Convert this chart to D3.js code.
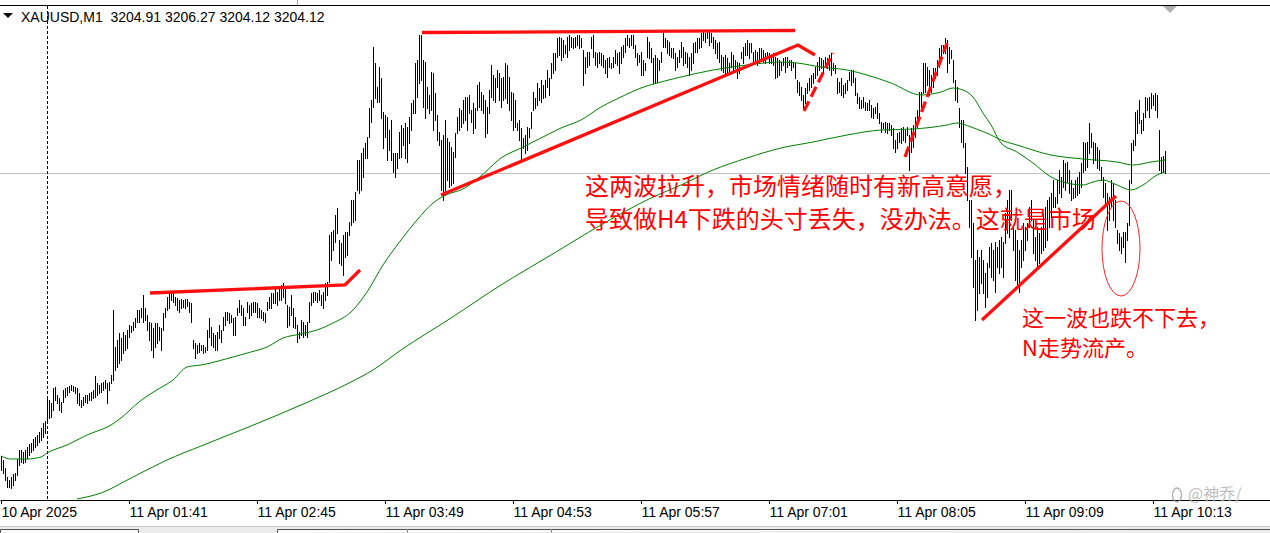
<!DOCTYPE html>
<html><head><meta charset="utf-8">
<script src="https://cdn.jsdelivr.net/npm/d3@7"></script>
<style>html,body{margin:0;padding:0;background:#fff;overflow:hidden}svg{display:block}</style>
</head><body>
<svg id="c" width="1270" height="533"></svg>
<script>
// ---------- data ----------
const symbol = "XAUUSD", timeframe = "M1";
const lastOHLC = [3204.91, 3206.27, 3204.12, 3204.12];

const highs = [
3175.8,3175.4,3174.6,3173.7,3173.4,3173.7,3174.0,3174.1,3175.5,3176.4,3176.4,3176.2,3176.4,3176.7,3177.0,3177.1,3177.5,3177.7,3177.9,3178.2,
3178.6,3179.1,3179.3,3181.6,3181.4,3181.1,3182.6,3182.7,3181.9,3181.6,3181.2,3182.4,3182.6,3182.7,3182.8,3182.9,3182.8,3182.7,3182.6,3182.1,
3181.4,3181.7,3181.9,3181.9,3182.1,3182.2,3182.4,3183.8,3183.1,3182.9,3183.1,3183.2,3183.4,3183.1,3183.2,3183.9,3190.4,3186.7,3187.4,3188.1,
3187.6,3188.2,3187.9,3188.4,3188.9,3188.8,3189.2,3189.6,3190.4,3190.4,3190.6,3191.9,3190.6,3189.9,3189.2,3189.1,3188.6,3189.1,3189.1,3188.7,
3188.6,3190.1,3190.6,3191.7,3192.1,3192.2,3192.1,3191.7,3191.6,3191.4,3191.5,3191.4,3191.5,3191.5,3191.2,3191.1,3187.4,3187.1,3186.9,3187.1,
3186.9,3186.9,3186.7,3188.4,3189.6,3188.7,3188.1,3187.9,3188.2,3188.9,3188.4,3189.7,3190.2,3190.2,3190.1,3189.9,3189.6,3189.7,3190.6,3191.4,
3190.9,3190.6,3189.7,3191.2,3190.9,3191.1,3191.2,3191.2,3191.1,3190.6,3190.4,3190.2,3190.1,3191.2,3191.7,3192.1,3192.1,3192.6,3192.2,3192.6,
3192.9,3193.1,3192.6,3190.9,3190.7,3191.9,3190.6,3189.7,3188.9,3188.2,3189.4,3189.2,3188.9,3189.2,3191.2,3192.1,3192.2,3192.2,3192.1,3192.4,
3191.9,3192.2,3193.1,3193.2,3197.9,3198.2,3198.4,3199.9,3200.6,3197.4,3197.1,3197.9,3198.2,3198.2,3199.2,3201.4,3201.4,3202.2,3205.4,3205.4,
3206.1,3206.6,3207.1,3207.7,3210.6,3211.4,3216.7,3215.1,3212.7,3214.7,3213.6,3210.2,3209.9,3209.7,3208.4,3209.4,3206.1,3206.1,3206.1,3208.2,
3208.9,3208.6,3209.1,3208.7,3209.7,3211.1,3211.4,3215.1,3215.4,3217.9,3217.9,3215.4,3215.2,3212.7,3211.9,3214.2,3214.1,3212.1,3209.9,3208.2,
3207.4,3207.9,3209.4,3207.6,3207.2,3206.7,3206.2,3208.1,3209.7,3210.6,3210.4,3211.4,3211.7,3211.7,3211.9,3210.4,3211.1,3210.6,3212.9,3213.2,
3212.2,3211.9,3211.4,3210.7,3212.4,3214.9,3213.9,3213.6,3214.4,3214.1,3213.6,3213.7,3215.1,3214.9,3213.7,3212.2,3212.1,3211.4,3209.1,3209.4,
3208.6,3207.6,3207.9,3208.7,3208.6,3210.2,3212.2,3211.6,3213.1,3212.6,3213.4,3212.9,3213.4,3214.4,3213.6,3215.1,3216.1,3216.1,3217.6,3217.7,
3217.6,3217.4,3216.9,3217.7,3217.9,3217.7,3217.6,3217.7,3217.9,3217.9,3217.6,3216.4,3215.7,3216.2,3216.2,3217.7,3217.9,3216.2,3216.1,3216.2,
3216.1,3215.9,3215.4,3215.6,3215.7,3215.1,3215.7,3216.4,3216.1,3216.2,3216.7,3216.9,3217.6,3217.9,3217.6,3217.9,3217.9,3216.9,3216.1,3215.9,
3216.2,3215.4,3215.1,3217.7,3217.2,3216.6,3215.6,3215.9,3215.6,3215.4,3216.2,3218.1,3217.6,3217.4,3217.2,3216.6,3216.6,3216.1,3215.7,3216.4,
3217.2,3216.7,3216.2,3216.1,3215.7,3216.1,3217.1,3217.2,3217.6,3217.6,3218.1,3218.2,3218.1,3218.2,3218.2,3218.1,3217.7,3217.4,3217.1,3217.2,
3215.9,3215.7,3215.9,3215.6,3215.1,3216.2,3215.9,3215.4,3215.2,3215.1,3216.2,3216.7,3217.1,3217.4,3217.1,3217.1,3216.2,3216.4,3216.2,3216.6,
3216.6,3216.4,3216.1,3216.2,3216.1,3215.9,3216.1,3215.7,3215.6,3215.4,3215.2,3215.6,3215.7,3215.7,3215.4,3215.4,3215.2,3215.1,3213.4,3213.2,
3212.7,3211.9,3212.6,3213.1,3213.6,3213.9,3214.1,3214.7,3215.2,3215.7,3215.6,3215.4,3215.7,3215.6,3215.9,3216.1,3215.1,3214.9,3213.6,3213.2,
3213.6,3212.9,3213.1,3213.4,3214.2,3214.4,3214.4,3213.6,3212.1,3211.7,3211.4,3211.7,3211.2,3211.1,3211.4,3210.9,3210.6,3210.7,3211.1,3210.1,
3209.2,3209.1,3209.2,3209.1,3209.1,3208.9,3208.6,3207.4,3208.1,3208.2,3208.6,3208.7,3208.4,3208.7,3207.9,3208.6,3208.9,3209.7,3210.4,3212.2,
3212.2,3215.1,3215.1,3214.7,3214.4,3213.9,3214.6,3214.6,3215.4,3216.6,3216.9,3216.9,3217.6,3217.4,3216.7,3216.4,3215.4,3213.4,3212.7,3210.6,
3209.4,3209.4,3207.1,3204.7,3201.4,3201.4,3199.1,3195.4,3196.4,3195.7,3196.4,3195.4,3194.1,3195.1,3196.7,3197.1,3196.4,3197.2,3196.7,3197.4,
3197.7,3197.2,3200.1,3201.4,3202.4,3202.4,3198.7,3198.4,3197.4,3196.4,3197.4,3199.1,3198.7,3199.1,3200.7,3201.4,3199.4,3197.7,3198.7,3198.1,
3198.7,3200.1,3200.7,3201.4,3201.7,3202.1,3203.4,3201.7,3203.4,3204.4,3203.7,3205.4,3205.1,3205.2,3204.4,3203.4,3202.6,3203.4,3203.7,3204.2,
3205.1,3207.2,3207.1,3207.2,3209.1,3208.1,3207.2,3207.1,3206.7,3206.4,3204.7,3203.7,3203.1,3202.1,3201.7,3203.4,3203.1,3201.4,3198.4,3198.1,
3197.7,3198.2,3198.2,3199.1,3203.4,3207.1,3207.4,3210.2,3210.4,3211.4,3209.4,3210.1,3211.7,3211.6,3211.7,3212.1,3211.9,3212.1,3211.9,3208.4,
3205.7,3205.8,3206.27];

const lows = [
3174.4,3174.1,3173.4,3172.7,3172.7,3172.6,3172.9,3173.4,3173.9,3174.9,3175.2,3175.1,3175.2,3175.6,3175.9,3176.2,3176.4,3176.7,3176.9,3177.2,
3177.4,3177.7,3178.1,3179.4,3179.6,3179.7,3180.4,3181.4,3181.1,3180.4,3180.2,3181.2,3181.7,3181.9,3182.2,3182.4,3182.3,3182.1,3181.1,3180.9,
3180.7,3180.9,3181.2,3181.1,3181.4,3181.4,3181.6,3181.7,3181.9,3182.1,3182.2,3182.4,3182.6,3181.1,3182.4,3183.1,3183.4,3184.4,3184.7,3185.1,
3185.4,3186.1,3186.4,3186.6,3187.7,3188.2,3188.4,3188.7,3189.2,3189.2,3189.7,3189.2,3189.4,3188.4,3187.4,3186.4,3185.7,3186.7,3187.1,3187.4,
3186.4,3188.4,3189.7,3190.4,3190.6,3191.4,3191.2,3190.9,3190.4,3190.2,3190.6,3190.7,3190.6,3190.8,3190.2,3189.2,3186.6,3185.6,3186.1,3186.2,
3186.4,3186.1,3186.2,3186.4,3187.7,3186.9,3186.7,3186.4,3186.4,3187.6,3187.2,3188.4,3188.9,3189.4,3189.1,3189.2,3187.9,3187.9,3189.9,3190.2,
3189.9,3188.9,3188.9,3190.2,3189.6,3189.9,3190.2,3190.2,3189.7,3189.7,3189.6,3189.4,3189.2,3190.4,3190.6,3190.6,3191.1,3191.1,3190.9,3191.4,
3191.4,3191.7,3191.1,3188.7,3188.9,3189.9,3188.7,3188.6,3187.2,3187.6,3187.9,3187.7,3187.9,3187.7,3189.2,3190.9,3191.2,3191.4,3191.2,3191.4,
3190.9,3190.6,3191.4,3191.9,3193.2,3195.4,3196.4,3197.2,3198.1,3195.1,3194.9,3193.9,3195.7,3195.9,3197.9,3198.9,3199.2,3199.4,3202.4,3202.1,
3202.4,3203.7,3205.6,3205.6,3207.7,3209.2,3210.7,3211.6,3211.2,3211.2,3209.6,3206.6,3207.7,3205.4,3206.4,3205.4,3204.2,3203.7,3204.6,3205.6,
3205.7,3206.9,3205.6,3205.2,3207.1,3208.4,3210.1,3210.1,3211.7,3213.1,3213.4,3210.7,3209.6,3210.6,3210.1,3210.4,3208.4,3209.4,3207.4,3206.9,
3202.4,3201.4,3201.9,3203.4,3202.7,3202.9,3203.1,3205.7,3208.1,3208.4,3208.7,3209.1,3209.4,3208.4,3210.1,3209.2,3208.1,3208.6,3210.4,3210.7,
3210.4,3210.1,3207.7,3208.1,3210.1,3211.7,3211.4,3211.2,3212.7,3211.4,3210.7,3211.4,3211.6,3211.1,3210.4,3209.4,3208.4,3208.7,3208.4,3207.4,
3205.4,3206.6,3206.1,3206.4,3207.7,3208.6,3210.4,3210.6,3210.9,3211.4,3211.2,3211.6,3211.7,3212.7,3211.9,3213.6,3214.1,3214.4,3215.7,3215.9,
3215.4,3215.7,3216.1,3215.7,3216.4,3216.7,3216.6,3216.7,3216.9,3216.6,3216.7,3212.9,3214.1,3214.7,3214.9,3216.6,3215.7,3214.9,3214.7,3215.1,
3214.9,3214.7,3214.1,3213.7,3214.7,3214.6,3214.7,3215.1,3214.9,3214.1,3215.1,3215.7,3216.2,3216.9,3216.7,3216.9,3216.6,3215.7,3214.9,3215.2,
3213.9,3213.9,3214.4,3215.7,3215.6,3215.2,3213.1,3213.2,3213.2,3214.4,3215.2,3216.7,3216.7,3216.1,3215.9,3215.7,3215.6,3214.4,3214.7,3215.2,
3215.7,3214.9,3215.1,3214.7,3213.9,3214.4,3215.1,3216.2,3216.2,3216.6,3216.7,3217.4,3217.2,3217.6,3216.9,3217.2,3216.6,3216.1,3215.6,3215.2,
3214.4,3214.2,3213.9,3214.2,3214.1,3214.7,3214.2,3214.6,3213.6,3214.1,3215.6,3215.1,3215.9,3215.9,3215.6,3216.2,3215.1,3215.4,3214.9,3215.2,
3215.6,3215.2,3215.1,3215.6,3215.1,3215.1,3214.9,3213.6,3213.7,3213.9,3214.4,3214.9,3214.2,3214.7,3214.9,3214.4,3214.7,3213.6,3212.2,3211.9,
3211.4,3210.6,3211.1,3212.1,3212.4,3212.7,3213.1,3213.6,3213.9,3214.4,3214.6,3214.1,3214.9,3214.6,3214.4,3213.9,3214.4,3214.1,3212.1,3212.2,
3211.9,3211.7,3212.1,3212.4,3213.4,3212.9,3213.2,3211.9,3211.1,3210.6,3210.6,3210.7,3210.4,3210.4,3210.4,3209.7,3209.6,3210.1,3209.6,3209.1,
3208.2,3208.6,3208.2,3208.1,3208.4,3207.9,3206.6,3206.2,3206.6,3207.2,3207.1,3207.4,3207.2,3207.9,3204.4,3206.2,3206.7,3207.7,3208.7,3209.4,
3210.7,3212.1,3212.2,3212.9,3211.9,3212.2,3212.7,3213.6,3213.9,3214.7,3215.6,3216.1,3216.1,3214.2,3215.1,3215.6,3213.2,3211.4,3211.2,3208.7,
3207.2,3206.7,3204.1,3201.4,3198.7,3195.7,3192.7,3189.4,3190.4,3192.1,3193.1,3192.1,3190.7,3191.7,3194.7,3193.7,3193.4,3192.2,3194.7,3194.1,
3194.7,3193.7,3197.1,3198.1,3197.7,3199.4,3196.4,3193.4,3192.7,3192.2,3194.7,3195.4,3196.4,3197.4,3198.7,3199.4,3196.1,3195.4,3194.7,3195.1,
3196.1,3196.4,3196.7,3197.4,3198.7,3199.7,3200.7,3200.7,3201.1,3202.1,3201.7,3202.7,3202.4,3203.2,3202.1,3201.4,3201.6,3201.7,3201.9,3202.1,
3202.7,3204.2,3204.4,3204.7,3206.1,3206.7,3205.1,3205.4,3204.6,3204.4,3203.4,3201.7,3201.1,3198.4,3199.4,3200.7,3199.4,3198.7,3197.1,3196.4,
3196.1,3196.7,3195.2,3197.4,3198.9,3203.1,3206.4,3206.9,3208.1,3209.1,3208.1,3208.4,3209.7,3210.4,3209.7,3210.6,3210.9,3210.4,3209.7,3204.4,
3204.1,3204.2,3204.12];

const tickBars = [0, 64, 128, 192, 256, 320, 384, 448, 512, 576];
const tickLabels = ["10 Apr 2025","11 Apr 01:41","11 Apr 02:45","11 Apr 03:49","11 Apr 04:53",
                    "11 Apr 05:57","11 Apr 07:01","11 Apr 08:05","11 Apr 09:09","11 Apr 10:13"];
const separatorBar = 23;   // 11 Apr 01:00

const maFastBar = [0,5,13,20,23,33,43,55,60,69,77,86,93,100,116,125,133,141,150,158,166,175,183,191,200,208,216,225,230,240,250,260,270,280,290,300,310,320,330,340,356,373,390,398,410,423,433,445,460,470,476,481,486,491,495,500,508,516,525,533,541,546,551,558,565,571,578,582];
const maFastVal = [3175.8,3175.5,3175.5,3175.7,3176.1,3176.9,3177.9,3178.9,3179.6,3181.2,3182.3,3183.4,3184.7,3184.9,3185.7,3186.2,3186.7,3187.6,3188.0,3188.4,3189.1,3190.2,3192.2,3194.9,3197.4,3199.4,3201.1,3202.1,3202.4,3203.8,3205.6,3206.6,3207.6,3208.6,3209.4,3210.7,3211.7,3212.6,3213.2,3213.7,3214.4,3214.9,3215.2,3215.1,3214.7,3214.4,3213.9,3213.1,3211.9,3212.2,3212.6,3212.4,3211.7,3210.1,3208.9,3207.1,3206.2,3205.1,3203.7,3203.1,3202.9,3203.2,3203.4,3202.9,3202.4,3202.9,3203.9,3204.2];

const maSlowBar = [38,50,66,83,100,125,150,175,186,200,225,250,275,300,325,340,356,373,390,406,423,440,456,473,478,485,495,500,508,525,541,558,566,575,582];
const maSlowVal = [3171.5,3172.1,3173.7,3175.4,3176.8,3178.8,3180.9,3183.2,3184.4,3186.4,3189.6,3192.9,3195.9,3198.9,3201.6,3202.9,3204.4,3205.6,3206.6,3207.2,3207.9,3208.4,3208.5,3208.9,3209.1,3208.7,3207.9,3207.4,3206.9,3205.9,3205.5,3205.2,3204.9,3205.2,3205.4];

// hand-drawn annotations: [bar, price]
const rangeTopLine  = [[74.5,3192.1],[172,3192.9],[179.5,3194.4]];
const highLine      = [[210.5,3218.15],[397,3218.35]];
const riseLine      = [[220,3201.9],[398.5,3216.9],[407,3215.9]];
const dashLine1     = [[401.5,3210.3],[416,3216.1]];
const dashLine2     = [[452,3205.7],[473,3217.1]];
const lastRiseLine  = [[490.5,3189.4],[557.5,3201.8]];
const ringCenter = [560, 3196.55], ringHalfBars = 9.5, ringHalfPrice = 4.75;

const note1Lines = ["这两波拉升，市场情绪随时有新高意愿，","导致做H4下跌的头寸丢失，没办法。这就是市场"];
const note1Anchor = [292, [3201.9, 3198.6]];
const note2Lines = ["这一波也跌不下去，","N走势流产。"];
const note2Anchor = [510.5, [3188.8, 3185.8]];

// ---------- drawing ----------
const W = 1270, H = 533, axisY = 500, plotTop = 6;
const svg = d3.select("#c");
const x = d3.scaleLinear().domain([-0.5, 634.5]).range([0, W]);
const y = d3.scaleLinear().domain([3221.4, 3168.1]).range([0, H]);
const LAT = "'Liberation Sans', Arial, sans-serif";
const CJK = "'Noto Sans CJK SC', 'Noto Sans', sans-serif";

svg.append("rect").attr("width", W).attr("height", H).attr("fill", "#fff");

svg.append("defs").append("clipPath").attr("id", "plot")
  .append("rect").attr("x", 0).attr("y", plotTop).attr("width", W).attr("height", axisY - plotTop);

const plot = svg.append("g").attr("clip-path", "url(#plot)");

// current price line
plot.append("line").attr("x1", 0).attr("x2", W)
  .attr("y1", Math.round(y(lastOHLC[3])) + 0.5).attr("y2", Math.round(y(lastOHLC[3])) + 0.5)
  .attr("stroke", "#c0c0c0").attr("stroke-width", 1);

// day separator
plot.append("line").attr("x1", x(separatorBar) + 0.5).attr("x2", x(separatorBar) + 0.5)
  .attr("y1", plotTop).attr("y2", axisY)
  .attr("stroke", "#000").attr("stroke-width", 1).attr("stroke-dasharray", "3,2");

// bars
const bars = highs.map((h, i) => ({ i, h, l: lows[i] }));
plot.append("g").attr("shape-rendering", "crispEdges")
  .selectAll("line").data(bars).join("line")
  .attr("x1", d => x(d.i) + 0.5).attr("x2", d => x(d.i) + 0.5)
  .attr("y1", d => Math.round(y(d.h)))
  .attr("y2", d => Math.max(Math.round(y(d.l)), Math.round(y(d.h)) + 1) + 1)
  .attr("stroke", "#000").attr("stroke-width", 1);

// moving averages
const maLine = d3.line().x(d => x(d[0])).y(d => y(d[1])).curve(d3.curveMonotoneX);
[[maFastBar, maFastVal], [maSlowBar, maSlowVal]].forEach(([b, v]) => {
  plot.append("path").attr("d", maLine(b.map((k, j) => [k, v[j]])))
    .attr("fill", "none").attr("stroke", "#008000").attr("stroke-width", 1);
});

// annotations
const annLine = d3.line().x(d => x(d[0])).y(d => y(d[1]));
const ann = svg.append("g");
[[rangeTopLine, null], [highLine, null], [riseLine, null], [dashLine1, "11,5"], [dashLine2, "11,5"], [lastRiseLine, null]]
  .forEach(([pts, dash]) => {
    ann.append("path").attr("d", annLine(pts)).attr("fill", "none")
      .attr("stroke", "#ff1010").attr("stroke-width", 3.3)
      .attr("stroke-linejoin", "miter").attr("stroke-dasharray", dash);
  });
ann.append("ellipse")
  .attr("cx", x(ringCenter[0])).attr("cy", y(ringCenter[1]))
  .attr("rx", x(ringCenter[0] + ringHalfBars) - x(ringCenter[0]))
  .attr("ry", y(ringCenter[1] - ringHalfPrice) - y(ringCenter[1]))
  .attr("fill", "none").attr("stroke", "#ff2020").attr("stroke-width", 1);

function note(lines, anchor, size) {
  const t = ann.append("text").attr("font-family", CJK).attr("font-size", size).attr("fill", "#ff0000");
  lines.forEach((s, k) => {
    t.append("tspan").attr("x", x(anchor[0])).attr("y", y(anchor[1][k])).text(s);
  });
}
note(note1Lines, note1Anchor, 24);
note(note2Lines, note2Anchor, 22);

// time axis
const axis = svg.append("g").attr("transform", `translate(0,${axisY})`)
  .call(d3.axisBottom(x).tickValues(tickBars).tickFormat((d, i) => tickLabels[i]).tickSize(4).tickSizeOuter(0));
axis.select(".domain").attr("stroke", "#000");
axis.selectAll(".tick line").attr("stroke", "#000");
axis.selectAll(".tick text").attr("text-anchor", "start").attr("x", 0)
  .attr("font-family", LAT).attr("font-size", 14).attr("fill", "#000");

// window chrome
svg.append("line").attr("x1", 0).attr("x2", W).attr("y1", 5.5).attr("y2", 5.5).attr("stroke", "#000");
svg.append("line").attr("x1", 297.5).attr("x2", 297.5).attr("y1", 0).attr("y2", 5).attr("stroke", "#a0a0a0");
svg.append("path").attr("d", "M3,13 L13,13 L8,18 Z").attr("fill", "#000");
svg.append("path").attr("d", "M1163,6 L1177,6 L1170,13 Z").attr("fill", "#b0b0b0");
svg.append("text").attr("x", 21).attr("y", 22).attr("font-family", LAT).attr("font-size", 14)
  .attr("fill", "#000").attr("xml:space", "preserve").style("white-space", "pre")
  .text(`${symbol},${timeframe}  ${lastOHLC.map(v => v.toFixed(2)).join(" ")}`);

// bottom tab strip
svg.append("rect").attr("x", 0).attr("y", 527).attr("width", W).attr("height", 6).attr("fill", "#ececec");
svg.append("line").attr("x1", 0).attr("x2", W).attr("y1", 526.5).attr("y2", 526.5).attr("stroke", "#c8c8c8");
svg.append("path").attr("d", "M0.5,533 V529.5 H138.5 V533").attr("fill", "#fafafa").attr("stroke", "#555");
svg.append("path").attr("d", "M277.5,533 V529.5 H1270").attr("fill", "#fafafa").attr("stroke", "#555");
[407.5, 551.5].forEach(v => svg.append("line").attr("x1", v).attr("x2", v).attr("y1", 529).attr("y2", 533).attr("stroke", "#888"));

// watermark
const wm = svg.append("g").attr("opacity", 0.75);
wm.append("ellipse").attr("cx", 1177).attr("cy", 495).attr("rx", 4.5).attr("ry", 7)
  .attr("fill", "none").attr("stroke", "#999").attr("stroke-width", 1.4);
wm.append("text").attr("x", 1188).attr("y", 500).attr("font-family", CJK).attr("font-size", 16)
  .attr("fill", "#aaa").attr("stroke", "#fff").attr("stroke-width", 0.6).attr("paint-order", "stroke").text("@神乔/");
</script>
</body></html>
